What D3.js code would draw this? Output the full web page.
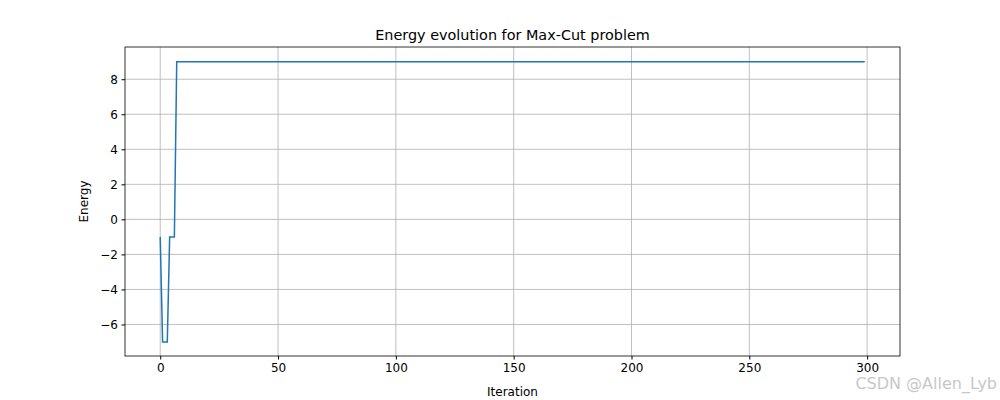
<!DOCTYPE html>
<html><head><meta charset="utf-8">
<script src="https://cdn.jsdelivr.net/npm/d3@7"></script>
<style>body{margin:0;background:#fff}text{font-family:"DejaVu Sans",sans-serif}</style>
</head><body><svg id="c" width="1000" height="400"></svg>
<script>
const firstEnergies = [-1, -7, -7, -7, -1, -1, -1];
const plateauEnergy = 9;
const plateauLength = 293;
const energies = firstEnergies.concat(Array(plateauLength).fill(plateauEnergy));
const xTicks = [0, 50, 100, 150, 200, 250, 300];
const yTicks = [-6, -4, -2, 0, 2, 4, 6, 8];

const svg = d3.select("#c");
const L = 125, R = 900, T = 47, B = 356;
const x = d3.scaleLinear().domain([-14.95, 313.95]).range([L, R]);
const y = d3.scaleLinear().domain([-7.8, 9.84]).range([B, T]);

const g = svg.append("g");
g.selectAll(".gx").data(xTicks).enter().append("line")
  .attr("x1", d => x(d)).attr("x2", d => x(d)).attr("y1", T).attr("y2", B)
  .attr("stroke", "#b0b0b0").attr("stroke-width", 0.8);
g.selectAll(".gy").data(yTicks).enter().append("line")
  .attr("y1", d => y(d)).attr("y2", d => y(d)).attr("x1", L).attr("x2", R)
  .attr("stroke", "#b0b0b0").attr("stroke-width", 0.8);

svg.append("path").datum(energies)
  .attr("d", d3.line().x((d, i) => x(i)).y(d => y(d)))
  .attr("fill", "none").attr("stroke", "#1f77b4").attr("stroke-width", 1.5);

const ax = svg.append("g").attr("transform", `translate(0,${B})`)
  .call(d3.axisBottom(x).tickValues(xTicks).tickSize(3.5).tickPadding(3.5));
const ay = svg.append("g").attr("transform", `translate(${L},0)`)
  .call(d3.axisLeft(y).tickValues(yTicks).tickSize(3.5).tickPadding(3.5)
    .tickFormat(d => d < 0 ? "\u2212" + Math.abs(d) : d));
[ax, ay].forEach(a => { a.select(".domain").remove(); a.selectAll("text").attr("font-size", 12).attr("fill", "#000").style("font-family", "DejaVu Sans"); a.selectAll("line").attr("stroke", "#000"); });

svg.append("rect").attr("x", L).attr("y", T).attr("width", R - L).attr("height", B - T)
  .attr("fill", "none").attr("stroke", "#000").attr("stroke-width", 0.8);

svg.append("text").attr("x", (L + R) / 2).attr("y", 40).attr("text-anchor", "middle")
  .attr("font-size", 14.4).text("Energy evolution for Max-Cut problem");
svg.append("text").attr("x", (L + R) / 2).attr("y", 396).attr("text-anchor", "middle")
  .attr("font-size", 12).text("Iteration");
svg.append("text").attr("transform", `translate(88,${(T + B) / 2}) rotate(-90)`).attr("text-anchor", "middle")
  .attr("font-size", 12).text("Energy");
svg.append("text").attr("x", 997).attr("y", 389).attr("text-anchor", "end")
  .attr("font-size", 16).attr("fill", "#c8c8c8").text("CSDN @Allen_Lyb");
</script></body></html>
